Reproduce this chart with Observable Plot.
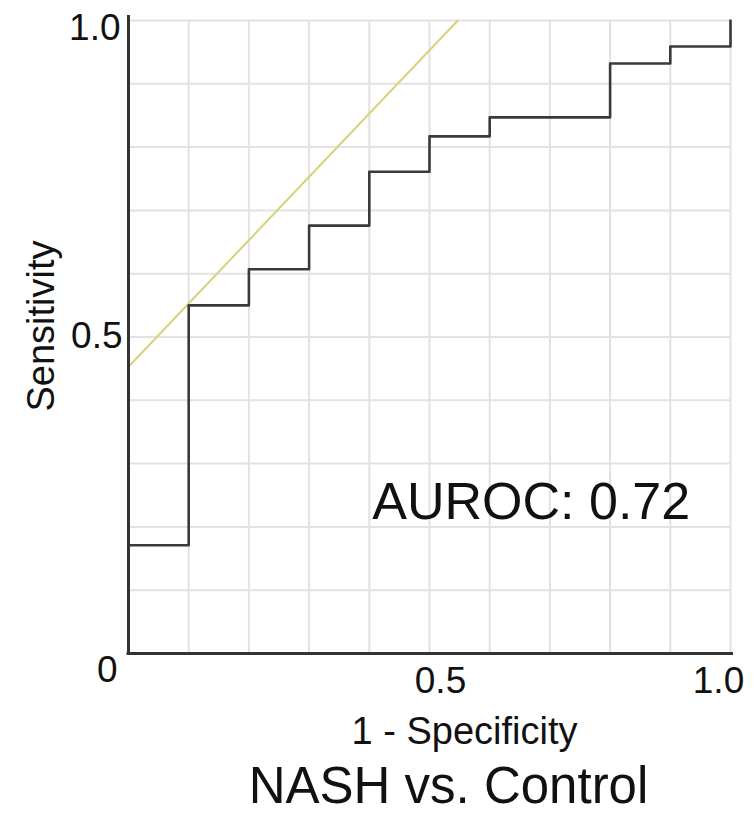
<!DOCTYPE html>
<html>
<head>
<meta charset="utf-8">
<script src="https://cdn.jsdelivr.net/npm/d3@7"></script>
<script src="https://cdn.jsdelivr.net/npm/@observablehq/plot@0.6"></script>
<style>
  html, body { margin: 0; padding: 0; background: #fff; }
  #chart svg { display: block; }
</style>
</head>
<body>
<div id="chart"></div>
<script>
// ROC curve data (1 - specificity, sensitivity)
const fpr = [0, 0.1, 0.2, 0.3, 0.4, 0.5, 0.6, 0.8, 0.9, 1.0];
const tpr = [0.171, 0.550, 0.607, 0.676, 0.761, 0.817, 0.847, 0.932, 0.959, 1.0];

// Tangent (yellow) reference line endpoints
const refX = [0, 0.547];
const refY = [0.453, 1.0];

// Grid and tick values
const gridValues = [0.1, 0.2, 0.3, 0.4, 0.5, 0.6, 0.7, 0.8, 0.9, 1.0];
const xTickValues = [0.5, 1.0];
const xTickLabels = ["0.5", "1.0"];
const yTickValues = [0.5, 1.0];
const yTickLabels = ["0.5", "1.0"];

// Texts
const xLabel = "1 - Specificity";
const yLabel = "Sensitivity";
const title = "NASH vs. Control";
const aurocText = "AUROC: 0.72";
const aurocPos = {x: 0.405, y: 0.238};

const roc = fpr.map((x, i) => ({x, y: tpr[i]}));
const ref = refX.map((x, i) => ({x, y: refY[i]}));

const font = "'Liberation Sans', Arial, Helvetica, sans-serif";
const ink = "#111";

const chart = Plot.plot({
  width: 754,
  height: 814,
  marginLeft: 128,
  marginRight: 24,
  marginTop: 20,
  marginBottom: 161,
  x: {domain: [0, 1], axis: null},
  y: {domain: [0, 1], axis: null},
  style: {background: "#fff", fontFamily: font, color: ink},
  marks: [
    Plot.gridX(gridValues, {stroke: "#e2e2e2", strokeOpacity: 1, strokeWidth: 2}),
    Plot.gridY(gridValues, {stroke: "#e2e2e2", strokeOpacity: 1, strokeWidth: 2}),
    Plot.line(ref, {x: "x", y: "y", stroke: "#d8d27c", strokeWidth: 2}),
    Plot.line(roc, {x: "x", y: "y", curve: "step-after", stroke: "#3a3a3a", strokeWidth: 2.6}),
    Plot.ruleX([0], {stroke: "#333", strokeWidth: 3, insetTop: -5, insetBottom: -1.5}),
    Plot.ruleY([0], {stroke: "#333", strokeWidth: 3, insetLeft: -1.5, insetRight: -3}),
    // y tick labels
    Plot.text([yTickValues[1]], {x: 0, y: d => d, text: () => yTickLabels[1], textAnchor: "end", dx: -8, dy: 8, fontSize: 37, fill: ink}),
    Plot.text([yTickValues[0]], {x: 0, y: d => d, text: () => yTickLabels[0], textAnchor: "end", dx: -6, dy: -1, fontSize: 37, fill: ink}),
    Plot.text([0], {x: 0, y: 0, text: () => "0", textAnchor: "end", dx: -11, dy: 17, fontSize: 37, fill: ink}),
    // x tick labels
    Plot.text([xTickValues[0]], {x: d => d, y: 0, text: () => xTickLabels[0], textAnchor: "middle", dx: 11, dy: 28, fontSize: 37, fill: ink}),
    Plot.text([xTickValues[1]], {x: d => d, y: 0, text: () => xTickLabels[1], textAnchor: "middle", dx: -12, dy: 28, fontSize: 37, fill: ink}),
    // axis titles
    Plot.text([xLabel], {frameAnchor: "bottom", text: d => d, lineAnchor: "bottom", textAnchor: "middle", dx: 35, dy: 90, fontSize: 38, fill: ink}),
    Plot.text([yLabel], {frameAnchor: "left", text: d => d, rotate: -90, textAnchor: "middle", lineAnchor: "bottom", dx: -75, dy: -11, fontSize: 38, fill: ink}),
    // AUROC annotation
    Plot.text([aurocText], {x: () => aurocPos.x, y: () => aurocPos.y, text: d => d, textAnchor: "start", fontSize: 52, fill: ink}),
    // chart title
    Plot.text([title], {frameAnchor: "bottom", text: d => d, lineAnchor: "bottom", textAnchor: "middle", dx: 19, dy: 149, fontSize: 51, fill: ink})
  ]
});
document.getElementById("chart").append(chart);
</script>
</body>
</html>
